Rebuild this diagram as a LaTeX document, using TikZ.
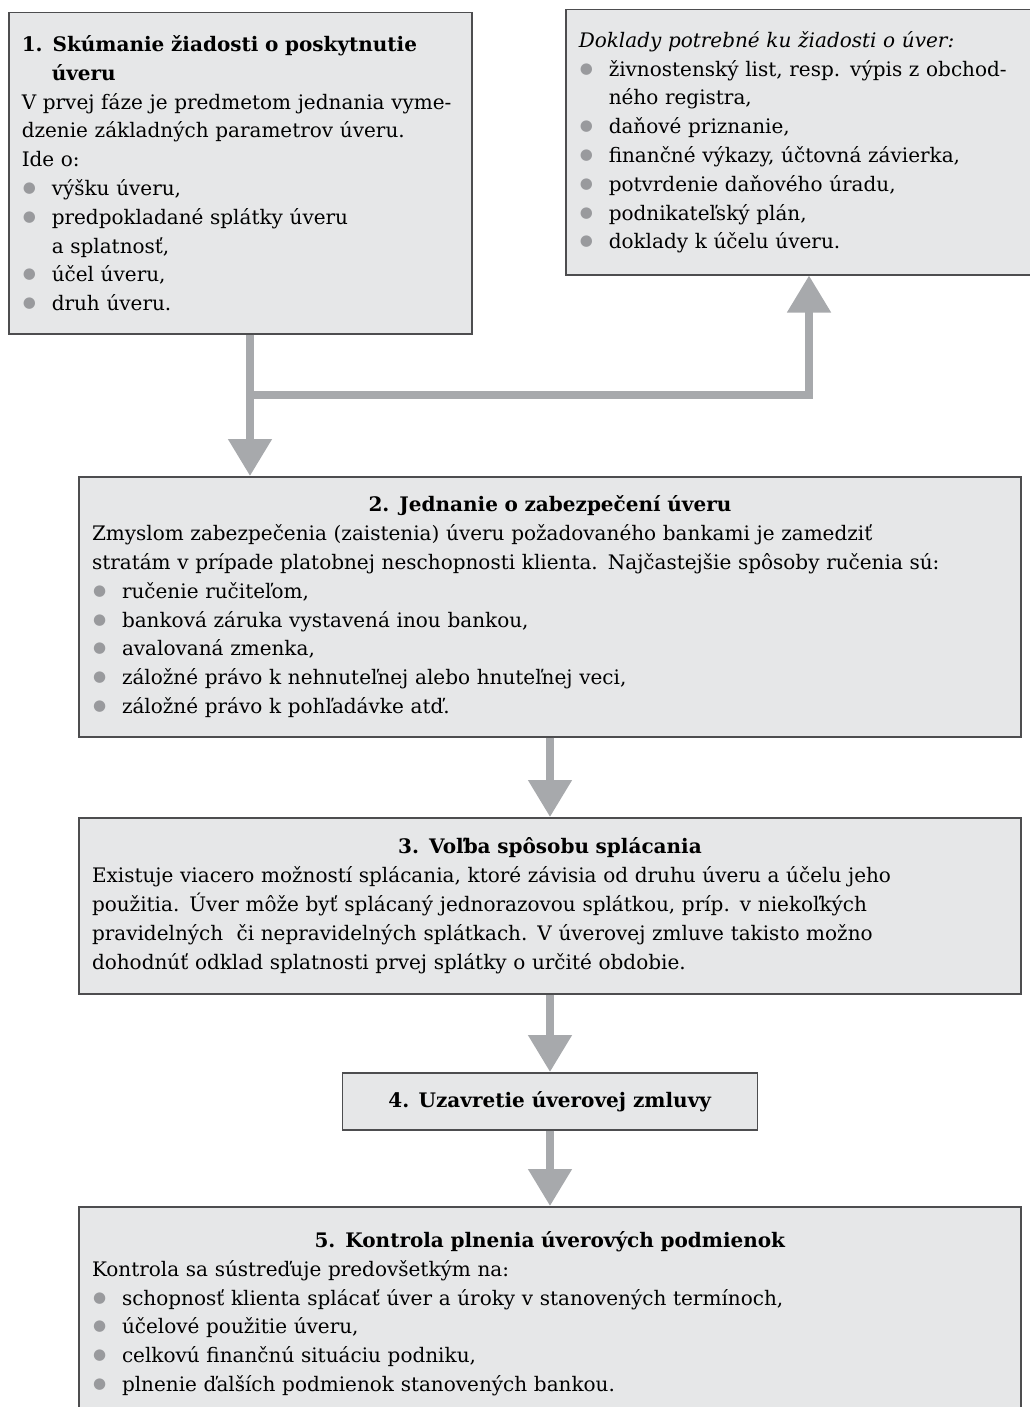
\documentclass[tikz,border=0pt]{standalone}
\usepackage{fontspec}
\setmainfont{DejaVu Serif}
\newfontfamily\dotfont{DejaVu Sans}
\usetikzlibrary{arrows.meta}

\definecolor{boxfill}{HTML}{E6E7E8}
\definecolor{boxline}{HTML}{4D4D4F}
\definecolor{flowgray}{HTML}{A7A9AC}
\definecolor{bulgray}{HTML}{999A9D}

\setlength{\parindent}{0pt}
\hyphenpenalty=10000
\newcommand{\nl}{\hfil\break}
\newcommand{\bulmark}{\textcolor{bulgray}{\raisebox{3pt}{\dotfont\fontsize{15}{0}\selectfont ●}}}
\newcommand{\itm}[1]{\par\hangindent=30pt\hangafter=1\makebox[30pt][l]{\hspace{1pt}\bulmark}#1}
\newcommand{\steptitle}[1]{\makebox[\hsize]{\textbf{#1}}\par}

\begin{document}
\begin{tikzpicture}[x=1pt,y=1pt,
    box/.style={draw=boxline,fill=boxfill,line width=1.5pt,inner xsep=13pt,inner ysep=0pt,
        align=left,font=\fontsize{20}{28.8}\selectfont},
    flow/.style={draw=flowgray,line width=8pt},
    flowarrow/.style={-{Triangle[width=42pt,length=37pt]}}]
    \useasboundingbox (0,0) rectangle (1029,-1407);

    % top row
    \node[box,anchor=north west,text width=437pt,minimum height=321pt] (request) at (8,-12) {%
        {\hangindent=30pt\hangafter=1\textbf{1. Skúmanie žiadosti o poskytnutie\nl úveru}\par}
        V prvej fáze je predmetom jednania vyme-\\dzenie základných parametrov úveru.\\Ide o:
        \itm{výšku úveru,}
        \itm{predpokladané splátky úveru\nl a splatnosť,}
        \itm{účel úveru,}
        \itm{druh úveru.}};
    \node[box,anchor=north west,text width=460pt,minimum height=265pt] (docs) at (565,-9) {%
        \textit{Doklady potrebné ku žiadosti o úver:}
        \itm{živnostenský list, resp. výpis z obchod-\nl ného registra,}
        \itm{daňové priznanie,}
        \itm{finančné výkazy, účtovná závierka,}
        \itm{potvrdenie daňového úradu,}
        \itm{podnikateľský plán,}
        \itm{doklady k účelu úveru.}};

    % steps
    \node[box,anchor=north,text width=916pt,minimum height=260pt] (step2) at (550,-476) {%
        \steptitle{2. Jednanie o zabezpečení úveru}
        Zmyslom zabezpečenia (zaistenia) úveru požadovaného bankami je zamedziť\\
        stratám v prípade platobnej neschopnosti klienta. Najčastejšie spôsoby ručenia sú:
        \itm{ručenie ručiteľom,}
        \itm{banková záruka vystavená inou bankou,}
        \itm{avalovaná zmenka,}
        \itm{záložné právo k nehnuteľnej alebo hnuteľnej veci,}
        \itm{záložné právo k pohľadávke atď.}};
    \node[box,anchor=north,text width=916pt,minimum height=176pt] (step3) at (550,-817) {%
        \steptitle{3. Voľba spôsobu splácania}
        Existuje viacero možností splácania, ktoré závisia od druhu úveru a účelu jeho\\
        použitia. Úver môže byť splácaný jednorazovou splátkou, príp. v niekoľkých\\
        pravidelných\ \ či nepravidelných splátkach. V úverovej zmluve takisto možno\\
        dohodnúť odklad splatnosti prvej splátky o určité obdobie.};
    \node[box,anchor=north,align=center,minimum width=415pt,minimum height=57pt] (step4) at (550,-1072)
        {\textbf{4. Uzavretie úverovej zmluvy}};
    \node[box,anchor=north,text width=916pt,minimum height=214pt] (step5) at (550,-1206) {%
        \steptitle{5. Kontrola plnenia úverových podmienok}
        Kontrola sa sústreďuje predovšetkým na:
        \itm{schopnosť klienta splácať úver a úroky v stanovených termínoch,}
        \itm{účelové použitie úveru,}
        \itm{celkovú finančnú situáciu podniku,}
        \itm{plnenie ďalších podmienok stanovených bankou.}};

    % connectors
    \coordinate (fork) at (250,-395);
    \coordinate (turn) at (809,-395);
    \draw[flow,flowarrow] (fork |- request.south) -- (fork |- step2.north);
    \draw[flow,flowarrow] (fork) -- (turn) -- (turn |- docs.south);
    \draw[flow,flowarrow] (step2) -- (step3);
    \draw[flow,flowarrow] (step3) -- (step4);
    \draw[flow,flowarrow] (step4) -- (step5);
\end{tikzpicture}
\end{document}
